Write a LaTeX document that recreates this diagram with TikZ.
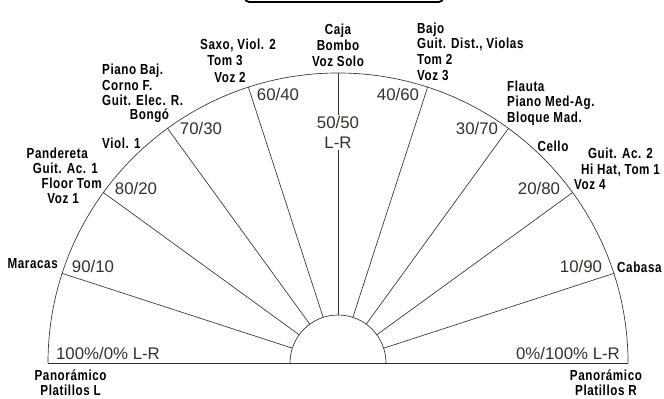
\documentclass[tikz,border=0pt]{standalone}
\usepackage{fontspec}
\setmainfont{Liberation Sans}
\newfontfamily\instfont[FakeStretch=0.8,LetterSpace=4]{Liberation Sans}
\usepackage{xcolor}
\definecolor{inkgray}{RGB}{50,50,45}
\definecolor{ratiogray}{RGB}{50,50,42}

\begin{document}
\begin{tikzpicture}[
  inst/.style={font=\instfont\bfseries\fontsize{14.3}{15.4}\selectfont, inner sep=0pt},
  ratio/.style={font=\fontsize{16.5}{18}\selectfont, text=ratiogray, inner sep=1pt},
  ray/.style={inkgray, line width=0.65pt}
]
  \useasboundingbox (-11.655,-1.207) rectangle (11.241,12.517);

  % Title box, cut off at the top
  \begin{scope}
    \clip (-11.655,-1.207) rectangle (11.241,12.517);
    \draw[line width=1.8pt, rounded corners=4pt] (-3.207,13.2) rectangle (3.621,12.448);
  \end{scope}

  % --- Half circles and base ---
  \draw[ray] (-10,0) -- (10,0);
  \draw[ray] (10,0) arc (0:180:10);
  \draw[ray] (1.655,0) arc (0:180:1.655);
  % Rays every 18 degrees
  \foreach \a in {18,36,54,72,108,126,144,162}
    \draw[ray] (\a:1.655) -- (\a:10);

  % --- Pan ratios ---
  \node[ratio] (r100) at (-7.931,0.345) {100\%/0\% L-R};
  \node[ratio] (r90)  at (-8.448,3.345) {90/10};
  \node[ratio] (r80)  at (-6.966,6.034) {80/20};
  \node[ratio] (r70)  at (-4.724,8.103) {70/30};
  \node[ratio] (r60)  at (-2.069,9.276) {60/40};
  \node[ratio] (r50)  at (0,8.310) {50/50};
  \node[ratio] (rlr)  at (0,7.586) {L-R};
  \node[ratio] (r40)  at (2.069,9.276) {40/60};
  \node[ratio] (r30)  at (4.793,8.103) {30/70};
  \node[ratio] (r20)  at (6.931,6.034) {20/80};
  \node[ratio] (r10)  at (8.379,3.345) {10/90};
  \node[ratio] (r0)   at (7.931,0.345) {0\%/100\% L-R};
  % centre ray, broken by its label
  \draw[ray] (90:1.655) -- (rlr.south);
  \draw[ray] (r50.north) -- (90:10);

  % --- Instruments, left side ---
  \node[inst, anchor=east] (maracas) at (-9.655,3.414) {Maracas};
  \node[inst, anchor=east] (pandereta) at (-8.621,7.241) {Pandereta};
  \node[inst, anchor=east] (guitac1) at (-8.276,6.724) {Guit. Ac. 1};
  \node[inst, anchor=east] (floortom) at (-8.138,6.207) {Floor Tom};
  \node[inst, anchor=east] (voz1) at (-8.931,5.655) {Voz 1};
  \node[inst, anchor=west] (viol1) at (-8.138,7.586) {Viol. 1};
  \node[inst, anchor=west, align=left] (pianobaj) at (-8.138,9.586)
    {Piano Baj.\\Corno F.\\Guit. Elec. R.};
  \node[inst] (bongo) at (-6.5,8.517) {Bongó};
  \node[inst] (saxo) at (-3.448,10.966) {Saxo, Viol. 2};
  \node[inst] (tom3) at (-3.897,10.448) {Tom 3};
  \node[inst] (voz2) at (-3.724,9.862) {Voz 2};

  % --- Centre ---
  \node[inst, align=center] (caja) at (0,10.95) {Caja\\Bombo\\Voz Solo};

  % --- Instruments, right side ---
  \node[inst, anchor=west, align=left] (bajo) at (2.724,10.74)
    {Bajo\\Guit. Dist., Violas\\Tom 2\\Voz 3};
  \node[inst, anchor=west, align=left] (flauta) at (5.828,8.966)
    {Flauta\\Piano Med-Ag.\\Bloque Mad.};
  \node[inst] (cello) at (7.414,7.483) {Cello};
  \node[inst, align=center] (guitac2) at (9.74,6.93) {Guit. Ac. 2\\Hi Hat, Tom 1};
  \node[inst, anchor=west] (voz4) at (8.138,6.138) {Voz 4};
  \node[inst, anchor=west] (cabasa) at (9.621,3.310) {Cabasa};

  % --- Extremes ---
  \node[inst, align=center] (panl) at (-9.22,-0.68) {Panorámico\\Platillos L};
  \node[inst, align=center] (panr) at (9.24,-0.68) {Panorámico\\Platillos R};
\end{tikzpicture}
\end{document}
